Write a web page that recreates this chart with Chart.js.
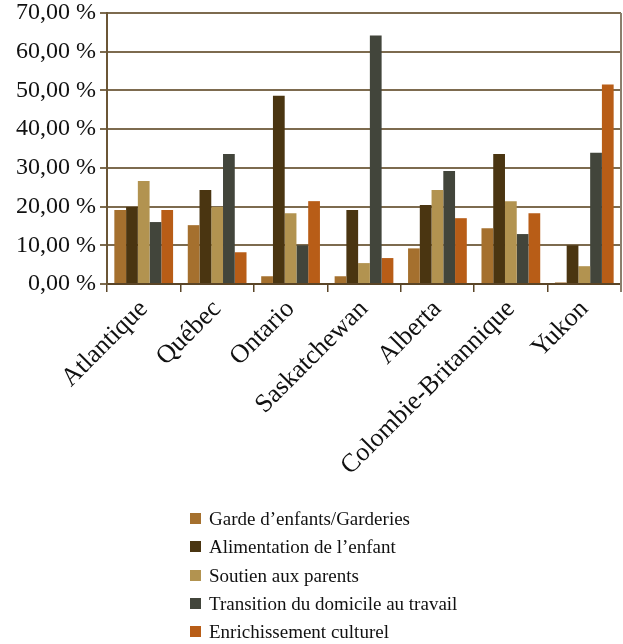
<!DOCTYPE html>
<html>
<head>
<meta charset="utf-8">
<script src="https://cdn.jsdelivr.net/npm/chart.js@4"></script>
<style>
  body { margin: 0; background: #fff; }
  #wrap { position: relative; width: 623px; height: 644px; overflow: hidden; }
  #legend { position: absolute; left: 190px; top: 507px; font-family: "Liberation Serif", serif; font-size: 19px; color: #111; }
  #legend div { height: 28.3px; line-height: 24px; white-space: nowrap; }
  #legend span { display: inline-block; width: 11px; height: 11px; margin-right: 8px; vertical-align: 1px; }
</style>
</head>
<body>
<div id="wrap">
  <canvas id="regions" width="623" height="644"></canvas>
  <div id="legend"></div>
</div>
<script>
// Regions
var regions = ["Atlantique", "Québec", "Ontario", "Saskatchewan", "Alberta", "Colombie-Britannique", "Yukon"];

// Series values (%)
var garde = [19.1, 15.2, 2.0, 2.0, 9.2, 14.4, 0.4];
var alimentation = [19.9, 24.3, 48.6, 19.1, 20.4, 33.6, 10.0];
var soutien = [26.6, 19.9, 18.3, 5.4, 24.3, 21.4, 4.6];
var transition = [16.0, 33.6, 10.0, 64.2, 29.2, 12.9, 33.9];
var enrichissement = [19.1, 8.2, 21.4, 6.7, 17.0, 18.3, 51.5];

var seriesNames = ["Garde d’enfants/Garderies", "Alimentation de l’enfant", "Soutien aux parents", "Transition du domicile au travail", "Enrichissement culturel"];
var seriesColors = ["#a5702e", "#4a3511", "#b29350", "#42453b", "#b85d17"];
var seriesValues = [garde, alimentation, soutien, transition, enrichissement];

var datasets = [];
for (var i = 0; i < seriesNames.length; i++) {
  datasets.push({
    label: seriesNames[i],
    data: seriesValues[i],
    backgroundColor: seriesColors[i],
    borderWidth: 0,
    categoryPercentage: 0.8,
    barPercentage: 1.0
  });
}

// right border of the plot area
var rightBorder = {
  id: "rightBorder",
  afterDraw: function(chart) {
    var ctx = chart.ctx, a = chart.chartArea;
    ctx.save();
    ctx.strokeStyle = "#8a7f6c";
    ctx.lineWidth = 2;
    ctx.beginPath();
    ctx.moveTo(a.right, a.top);
    ctx.lineTo(a.right, a.bottom + 8);
    ctx.stroke();
    ctx.restore();
  }
};

new Chart("regions", {
  type: "bar",
  data: { labels: regions, datasets: datasets },
  options: {
    responsive: false,
    animation: false,
    layout: { padding: { left: 0, right: 2, top: 0, bottom: 0 } },
    plugins: {
      legend: { display: false },
      tooltip: { enabled: false }
    },
    scales: {
      x: {
        offset: true,
        grid: { drawOnChartArea: false, drawTicks: true, tickLength: 8, offset: true, color: "#5a4527", lineWidth: 1.5 },
        border: { color: "#5a4527", width: 2 },
        ticks: {
          minRotation: 45, maxRotation: 45, padding: 2, color: "#111",
          font: { family: "Liberation Serif", size: 26 }
        },
        afterFit: function(scale) { scale.height = 360; }
      },
      y: {
        min: 0, max: 70,
        ticks: {
          stepSize: 10, padding: 4, color: "#111",
          font: { family: "Liberation Serif", size: 24 },
          callback: function(v) { return v.toFixed(2).replace(".", ",") + " %"; }
        },
        grid: { color: "#7d6b4f", lineWidth: 2, tickLength: 7 },
        border: { color: "#6b5636", width: 2 },
        afterFit: function(scale) { scale.width = 107; scale.paddingTop = 13; }
      }
    }
  },
  plugins: [rightBorder]
});

// legend below the chart
var legend = document.getElementById("legend");
for (var j = 0; j < seriesNames.length; j++) {
  var row = document.createElement("div");
  row.innerHTML = '<span style="background:' + seriesColors[j] + '"></span>' + seriesNames[j];
  legend.appendChild(row);
}
</script>
</body>
</html>
